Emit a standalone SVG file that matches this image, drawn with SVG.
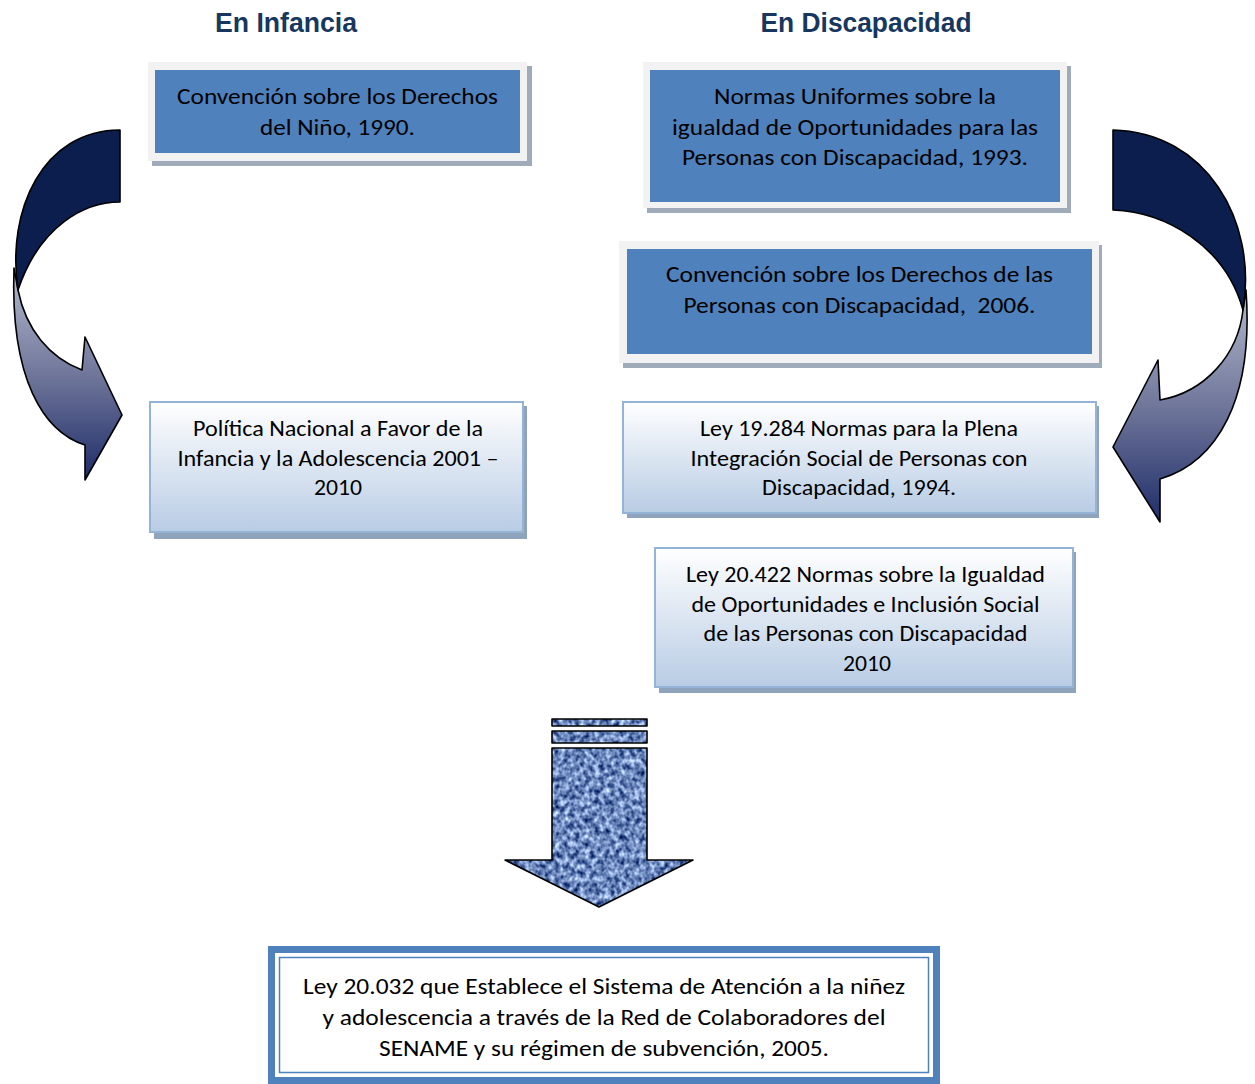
<svg xmlns="http://www.w3.org/2000/svg" width="1255" height="1084" viewBox="0 0 1255 1084">
  <style>
    .head { font-family: "Liberation Sans", Arial, sans-serif; font-weight: bold; font-size: 27px; fill: #17375E; text-anchor: middle; }
    .txt { font-family: Carlito, Lato, "Open Sans", sans-serif; font-size: 23px; fill: #000; text-anchor: middle; }
    .frame { fill: #F2F2F2; }
    .fshadow { fill: #A0ABBA; }
    .blue { fill: #4F81BD; }
    .soft { fill: url(#softFill); stroke: #95B3D7; stroke-width: 2; }
    .sshadow { fill: #8FA3BC; }
    .edge { stroke: #000; stroke-width: 1.6; stroke-linejoin: round; }
  </style>
  <defs>
    <linearGradient id="softFill" x1="0" y1="0" x2="0" y2="1">
      <stop offset="0" stop-color="#FFFFFF"/>
      <stop offset="1" stop-color="#B8CCE4"/>
    </linearGradient>
    <linearGradient id="leftFront" gradientUnits="userSpaceOnUse" x1="0" y1="280" x2="0" y2="480">
      <stop offset="0" stop-color="#AEB3C8"/>
      <stop offset="0.5" stop-color="#6C7398"/>
      <stop offset="1" stop-color="#1E2C68"/>
    </linearGradient>
    <linearGradient id="rightFront" gradientUnits="userSpaceOnUse" x1="0" y1="300" x2="0" y2="524">
      <stop offset="0" stop-color="#AEB3C8"/>
      <stop offset="0.5" stop-color="#6C7398"/>
      <stop offset="1" stop-color="#1E2C68"/>
    </linearGradient>
    <!-- woven blue texture for the down arrow -->
    <filter id="denim" filterUnits="userSpaceOnUse" x="500" y="712" width="200" height="200" color-interpolation-filters="sRGB">
      <feTurbulence type="fractalNoise" baseFrequency="0.2 0.17" numOctaves="2" seed="7" result="noise"/>
      <feColorMatrix in="noise" type="matrix" values="1.35 0 0 0 -0.25  1.32 0 0 0 -0.13  1.15 0 0 0 0.16  0 0 0 0 1" result="tint"/>
      <feComposite in="tint" in2="SourceGraphic" operator="in"/>
    </filter>
  </defs>

  <!-- column headings -->
  <text class="head" x="286" y="32" textLength="142" lengthAdjust="spacingAndGlyphs">En Infancia</text>
  <text class="head" x="866" y="32" textLength="211" lengthAdjust="spacingAndGlyphs">En Discapacidad</text>

  <!-- curved arrows and the down arrow -->
  <g id="connectors">
    <g id="curve-left">
      <path class="edge" fill="url(#leftFront)" d="M14,268 C10,380 44,432 85,445 L85,480 L122,415 L85,337 L82,370 C50,358 26,330 18,290 Z"/>
      <path class="edge" fill="#0B1E4E" d="M120,130 L120,202 C85,202 40,225 18,290 C6,210 43,130 120,130 Z"/>
    </g>
    <g id="curve-right">
      <path class="edge" fill="url(#rightFront)" d="M1246,290 C1254,400 1217,462 1160,479 L1160,522 L1113,447 L1158,360 L1160,400 C1205,392 1238,355 1243,310 Z"/>
      <path class="edge" fill="#0B1E4E" d="M1113,130 L1113,210 C1165,212 1225,245 1243,310 C1258,220 1205,132 1113,130 Z"/>
    </g>
    <g id="down-arrow">
      <g filter="url(#denim)">
        <rect x="552" y="719" width="95" height="7" fill="#000"/>
        <rect x="552" y="731" width="95" height="12" fill="#000"/>
        <path d="M552,748 L647,748 L647,860 L693,860 L599,907 L505,860 L552,860 Z" fill="#000"/>
      </g>
      <rect class="edge" fill="none" x="552" y="719" width="95" height="7"/>
      <rect class="edge" fill="none" x="552" y="731" width="95" height="12"/>
      <path class="edge" fill="none" d="M552,748 L647,748 L647,860 L693,860 L599,907 L505,860 L552,860 Z"/>
    </g>
  </g>

  <!-- Convención sobre los Derechos del Niño -->
  <g id="node-crc">
    <rect class="fshadow" x="152" y="66" width="380" height="100"/>
    <rect class="frame" x="148" y="62" width="379" height="99"/>
    <rect class="blue" x="155" y="70" width="365" height="83"/>
    <text class="txt" x="337.5" y="104" textLength="321" lengthAdjust="spacingAndGlyphs">Convención sobre los Derechos</text>
    <text class="txt" x="337.5" y="135" textLength="155" lengthAdjust="spacingAndGlyphs">del Niño, 1990.</text>
  </g>

  <!-- Normas Uniformes 1993 -->
  <g id="node-normas">
    <rect class="fshadow" x="647" y="66" width="424" height="147"/>
    <rect class="frame" x="643" y="62" width="424" height="146"/>
    <rect class="blue" x="650" y="70" width="410" height="132"/>
    <text class="txt" x="855" y="104" textLength="282" lengthAdjust="spacingAndGlyphs">Normas Uniformes sobre la</text>
    <text class="txt" x="855" y="135" textLength="366" lengthAdjust="spacingAndGlyphs">igualdad de Oportunidades para las</text>
    <text class="txt" x="855" y="165" textLength="346" lengthAdjust="spacingAndGlyphs">Personas con Discapacidad, 1993.</text>
  </g>

  <!-- Convención Discapacidad 2006 -->
  <g id="node-cdpd">
    <rect class="fshadow" x="623" y="245" width="479" height="123"/>
    <rect class="frame" x="619" y="241" width="480" height="122"/>
    <rect class="blue" x="627" y="249" width="465" height="105"/>
    <text class="txt" x="859.5" y="282" textLength="387" lengthAdjust="spacingAndGlyphs">Convención sobre los Derechos de las</text>
    <text class="txt" x="859.5" y="313" textLength="352" lengthAdjust="spacingAndGlyphs">Personas con Discapacidad,&#160; 2006.</text>
  </g>

  <!-- Política Nacional -->
  <g id="node-politica">
    <rect class="sshadow" x="154" y="406" width="373" height="133"/>
    <rect class="soft" x="150" y="402" width="373" height="130"/>
    <text class="txt" x="338" y="436" textLength="290" lengthAdjust="spacingAndGlyphs">Política Nacional a Favor de la</text>
    <text class="txt" x="338" y="466" textLength="321" lengthAdjust="spacingAndGlyphs">Infancia y la Adolescencia 2001 –</text>
    <text class="txt" x="338" y="495" textLength="48" lengthAdjust="spacingAndGlyphs">2010</text>
  </g>

  <!-- Ley 19.284 -->
  <g id="node-ley19284">
    <rect class="sshadow" x="627" y="406" width="472" height="112"/>
    <rect class="soft" x="623" y="402" width="473" height="111"/>
    <text class="txt" x="859" y="436" textLength="318" lengthAdjust="spacingAndGlyphs">Ley 19.284 Normas para la Plena</text>
    <text class="txt" x="859" y="466" textLength="337" lengthAdjust="spacingAndGlyphs">Integración Social de Personas con</text>
    <text class="txt" x="859" y="495" textLength="194" lengthAdjust="spacingAndGlyphs">Discapacidad, 1994.</text>
  </g>

  <!-- Ley 20.422 -->
  <g id="node-ley20422">
    <rect class="sshadow" x="659" y="552" width="417" height="141"/>
    <rect class="soft" x="655" y="548" width="418" height="139"/>
    <text class="txt" x="865.5" y="582" textLength="359" lengthAdjust="spacingAndGlyphs">Ley 20.422 Normas sobre la Igualdad</text>
    <text class="txt" x="865.5" y="612" textLength="348" lengthAdjust="spacingAndGlyphs">de Oportunidades e Inclusión Social</text>
    <text class="txt" x="865.5" y="641" textLength="324" lengthAdjust="spacingAndGlyphs">de las Personas con Discapacidad</text>
    <text class="txt" x="867" y="671" textLength="48" lengthAdjust="spacingAndGlyphs">2010</text>
  </g>

  <!-- Ley 20.032 -->
  <g id="node-ley20032">
    <rect x="271.5" y="949.5" width="665" height="131" fill="#FFFFFF" stroke="#4F81BD" stroke-width="7"/>
    <rect x="279.5" y="957.5" width="649" height="115" fill="none" stroke="#4F81BD" stroke-width="1.5"/>
    <text class="txt" x="604" y="994" textLength="602" lengthAdjust="spacingAndGlyphs">Ley 20.032 que Establece el Sistema de Atención a la niñez</text>
    <text class="txt" x="604" y="1025" textLength="563" lengthAdjust="spacingAndGlyphs">y adolescencia a través de la Red de Colaboradores del</text>
    <text class="txt" x="604" y="1056" textLength="450" lengthAdjust="spacingAndGlyphs">SENAME y su régimen de subvención, 2005.</text>
  </g>
</svg>
